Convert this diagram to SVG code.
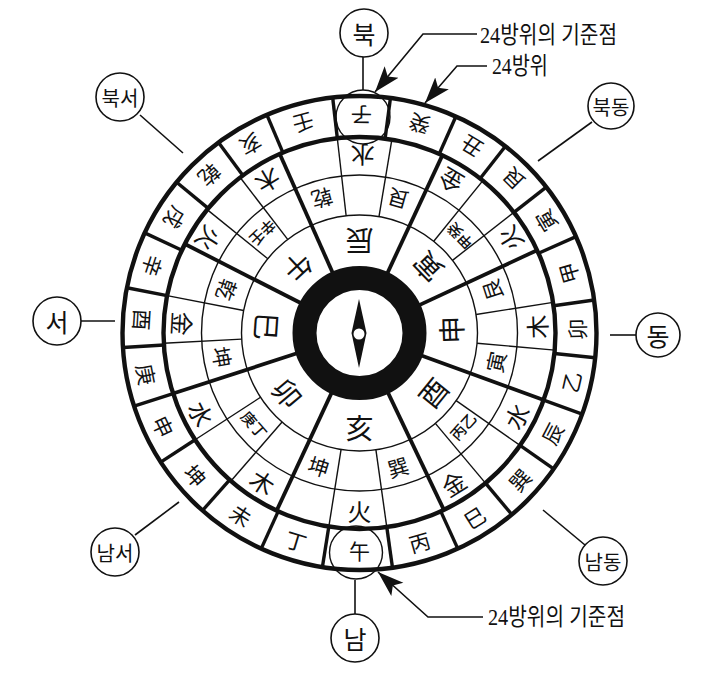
<svg xmlns="http://www.w3.org/2000/svg" width="704" height="681" viewBox="0 0 704 681">
<style>
text{font-family:"Noto Sans CJK KR","Noto Sans CJK TC",sans-serif;fill:#111;text-anchor:middle;dominant-baseline:central}
.r{fill:none;stroke:#111}
.t{stroke-width:4.4}
.n{stroke-width:1.4}
.l{stroke:#111;fill:none}
.m{stroke-width:3.8}
.o{stroke-width:3.4}
.s{stroke-width:1.4}
.a{font-size:21px;font-weight:400}
.b{font-size:24px;font-weight:400}
.c{font-size:28px;font-weight:400}
.d{font-size:15px;font-weight:500}
.node circle{fill:#fff;stroke:#111;stroke-width:1.6}
.lab{font-family:"Liberation Serif","Noto Sans CJK KR",sans-serif;font-size:24px;text-anchor:start;font-weight:400}
.nt{font-size:25px}
.nt2{font-size:20px}
</style>
<defs>
<marker id="ah" markerUnits="userSpaceOnUse" markerWidth="30" markerHeight="22" refX="26" refY="10" orient="auto"><path d="M26 10L0 1L6 10L0 19Z" fill="#111"/></marker>
</defs>
<rect width="704" height="681" fill="#fff"/>
<g id="wheel">
<circle class="r n" cx="359.5" cy="333" r="158"/>
<circle class="r n" cx="359.5" cy="333" r="118"/>
<g class="l o">
<line y1="-196" y2="-237" transform="translate(359.5 333) rotate(7.5)"/>
<line y1="-196" y2="-237" transform="translate(359.5 333) rotate(24)"/>
<line y1="-196" y2="-237" transform="translate(359.5 333) rotate(38)"/>
<line y1="-196" y2="-237" transform="translate(359.5 333) rotate(52)"/>
<line y1="-196" y2="-237" transform="translate(359.5 333) rotate(66)"/>
<line y1="-196" y2="-237" transform="translate(359.5 333) rotate(82)"/>
<line y1="-196" y2="-237" transform="translate(359.5 333) rotate(96)"/>
<line y1="-196" y2="-237" transform="translate(359.5 333) rotate(110)"/>
<line y1="-196" y2="-237" transform="translate(359.5 333) rotate(125)"/>
<line y1="-196" y2="-237" transform="translate(359.5 333) rotate(140)"/>
<line y1="-196" y2="-237" transform="translate(359.5 333) rotate(155.5)"/>
<line y1="-196" y2="-237" transform="translate(359.5 333) rotate(172)"/>
<line y1="-196" y2="-237" transform="translate(359.5 333) rotate(189)"/>
<line y1="-196" y2="-237" transform="translate(359.5 333) rotate(204.5)"/>
<line y1="-196" y2="-237" transform="translate(359.5 333) rotate(221.5)"/>
<line y1="-196" y2="-237" transform="translate(359.5 333) rotate(237)"/>
<line y1="-196" y2="-237" transform="translate(359.5 333) rotate(252)"/>
<line y1="-196" y2="-237" transform="translate(359.5 333) rotate(266.5)"/>
<line y1="-196" y2="-237" transform="translate(359.5 333) rotate(281)"/>
<line y1="-196" y2="-237" transform="translate(359.5 333) rotate(295)"/>
<line y1="-196" y2="-237" transform="translate(359.5 333) rotate(309.5)"/>
<line y1="-196" y2="-237" transform="translate(359.5 333) rotate(323.5)"/>
<line y1="-196" y2="-237" transform="translate(359.5 333) rotate(337)"/>
<line y1="-196" y2="-237" transform="translate(359.5 333) rotate(353.5)"/>
</g>
<g class="l s">
<line y1="-118" y2="-196" transform="translate(359.5 333) rotate(9.5)"/>
<line y1="-118" y2="-196" transform="translate(359.5 333) rotate(353.5)"/>
<line y1="-118" y2="-196" transform="translate(359.5 333) rotate(39)"/>
<line y1="-118" y2="-196" transform="translate(359.5 333) rotate(52)"/>
<line y1="-118" y2="-196" transform="translate(359.5 333) rotate(81)"/>
<line y1="-118" y2="-196" transform="translate(359.5 333) rotate(95)"/>
<line y1="-118" y2="-196" transform="translate(359.5 333) rotate(125)"/>
<line y1="-118" y2="-196" transform="translate(359.5 333) rotate(140)"/>
<line y1="-118" y2="-196" transform="translate(359.5 333) rotate(172)"/>
<line y1="-118" y2="-196" transform="translate(359.5 333) rotate(189)"/>
<line y1="-118" y2="-196" transform="translate(359.5 333) rotate(221)"/>
<line y1="-118" y2="-196" transform="translate(359.5 333) rotate(237)"/>
<line y1="-118" y2="-196" transform="translate(359.5 333) rotate(267)"/>
<line y1="-118" y2="-196" transform="translate(359.5 333) rotate(281)"/>
<line y1="-118" y2="-196" transform="translate(359.5 333) rotate(309)"/>
<line y1="-118" y2="-196" transform="translate(359.5 333) rotate(322.5)"/>
</g>
<g class="l m">
<line y1="-60" y2="-196" transform="translate(359.5 333) rotate(25)"/>
<line y1="-60" y2="-196" transform="translate(359.5 333) rotate(65)"/>
<line y1="-60" y2="-196" transform="translate(359.5 333) rotate(110)"/>
<line y1="-60" y2="-196" transform="translate(359.5 333) rotate(154.5)"/>
<line y1="-60" y2="-196" transform="translate(359.5 333) rotate(205)"/>
<line y1="-60" y2="-196" transform="translate(359.5 333) rotate(252)"/>
<line y1="-60" y2="-196" transform="translate(359.5 333) rotate(297)"/>
<line y1="-60" y2="-196" transform="translate(359.5 333) rotate(336)"/>
</g>
<circle class="r t" cx="359.5" cy="333" r="196"/>
<circle class="r t" cx="359.5" cy="333" r="237"/>
<circle cx="359.5" cy="333" r="55" fill="#fff" stroke="#111" stroke-width="24"/>
<path d="M359 299L366.500 333L359 368L351.500 333Z" fill="#111"/>
<circle cx="359" cy="334" r="5.500" fill="#fff"/>
<circle class="r n" cx="363" cy="117" r="27"/>
<circle class="r n" cx="356" cy="552.500" r="26.500"/>
<g id="outer-24" class="a">
<text transform="translate(359.5 333) rotate(0.5) translate(0 -217) rotate(180)">子</text>
<text transform="translate(359.5 333) rotate(16) translate(0 -217) rotate(180)">癸</text>
<text transform="translate(359.5 333) rotate(31) translate(0 -217) rotate(180)">丑</text>
<text transform="translate(359.5 333) rotate(45) translate(0 -217) rotate(180)">艮</text>
<text transform="translate(359.5 333) rotate(59) translate(0 -217) rotate(180)">寅</text>
<text transform="translate(359.5 333) rotate(74) translate(0 -217) rotate(180)">甲</text>
<text transform="translate(359.5 333) rotate(89) translate(0 -217) rotate(180)">卯</text>
<text transform="translate(359.5 333) rotate(103) translate(0 -217) rotate(180)">乙</text>
<text transform="translate(359.5 333) rotate(117.500) translate(0 -217) rotate(180)">辰</text>
<text transform="translate(359.5 333) rotate(132.500) translate(0 -217) rotate(180)">巽</text>
<text transform="translate(359.5 333) rotate(148) translate(0 -217) rotate(180)">巳</text>
<text transform="translate(359.5 333) rotate(164) translate(0 -217) rotate(180)">丙</text>
<text transform="translate(359.5 333) rotate(180) translate(0 -217) rotate(180)">午</text>
<text transform="translate(359.5 333) rotate(197) translate(0 -217) rotate(180)">丁</text>
<text transform="translate(359.5 333) rotate(213) translate(0 -217) rotate(180)">未</text>
<text transform="translate(359.5 333) rotate(229) translate(0 -217) rotate(180)">坤</text>
<text transform="translate(359.5 333) rotate(244.500) translate(0 -217) rotate(180)">申</text>
<text transform="translate(359.5 333) rotate(259) translate(0 -217) rotate(180)">庚</text>
<text transform="translate(359.5 333) rotate(273.500) translate(0 -217) rotate(180)">酉</text>
<text transform="translate(359.5 333) rotate(288) translate(0 -217) rotate(180)">辛</text>
<text transform="translate(359.5 333) rotate(302) translate(0 -217) rotate(180)">戌</text>
<text transform="translate(359.5 333) rotate(316.500) translate(0 -217) rotate(180)">乾</text>
<text transform="translate(359.5 333) rotate(330) translate(0 -217) rotate(180)">亥</text>
<text transform="translate(359.5 333) rotate(345) translate(0 -217) rotate(180)">壬</text>
</g>
<g id="elements" class="b">
<text transform="translate(359.5 333) rotate(1) translate(0 -177) rotate(180)">水</text>
<text transform="translate(359.5 333) rotate(31) translate(0 -177) rotate(180)">金</text>
<text transform="translate(359.5 333) rotate(58) translate(0 -177) rotate(180)">火</text>
<text transform="translate(359.5 333) rotate(88) translate(0 -177) rotate(180)">木</text>
<text transform="translate(359.5 333) rotate(118) translate(0 -177) rotate(180)">水</text>
<text transform="translate(359.5 333) rotate(148) translate(0 -177) rotate(180)">金</text>
<text transform="translate(359.5 333) rotate(180) translate(0 -177) rotate(180)">火</text>
<text transform="translate(359.5 333) rotate(213) translate(0 -177) rotate(180)">木</text>
<text transform="translate(359.5 333) rotate(243) translate(0 -177) rotate(180)">水</text>
<text transform="translate(359.5 333) rotate(273) translate(0 -177) rotate(180)">金</text>
<text transform="translate(359.5 333) rotate(302) translate(0 -177) rotate(180)">火</text>
<text transform="translate(359.5 333) rotate(329) translate(0 -177) rotate(180)">木</text>
</g>
<g id="middle" class="a">
<text transform="translate(359.5 333) rotate(16) translate(0 -139) rotate(180)">艮</text>
<text class="d" transform="translate(359.5 333) rotate(46) translate(0 -139) rotate(180)">甲癸</text>
<text transform="translate(359.5 333) rotate(72) translate(0 -139) rotate(180)">艮</text>
<text transform="translate(359.5 333) rotate(102) translate(0 -139) rotate(180)">寅</text>
<text class="d" transform="translate(359.5 333) rotate(132) translate(0 -139) rotate(180)">丙乙</text>
<text transform="translate(359.5 333) rotate(164) translate(0 -139) rotate(180)">巽</text>
<text transform="translate(359.5 333) rotate(197) translate(0 -139) rotate(180)">坤</text>
<text class="d" transform="translate(359.5 333) rotate(229) translate(0 -139) rotate(180)">庚丁</text>
<text transform="translate(359.5 333) rotate(260) translate(0 -139) rotate(180)">坤</text>
<text transform="translate(359.5 333) rotate(288) translate(0 -139) rotate(180)">乾</text>
<text class="d" transform="translate(359.5 333) rotate(316) translate(0 -139) rotate(180)">辛壬</text>
<text transform="translate(359.5 333) rotate(344.500) translate(0 -139) rotate(180)">乾</text>
</g>
<g id="inner" class="c">
<text transform="translate(359.5 333) rotate(0) translate(0 -91) rotate(180)">辰</text>
<text transform="translate(359.5 333) rotate(46) translate(0 -94) rotate(180)">寅</text>
<text transform="translate(359.5 333) rotate(88) translate(0 -91) rotate(180)">申</text>
<text transform="translate(359.5 333) rotate(129) translate(0 -94) rotate(180)">酉</text>
<text transform="translate(359.5 333) rotate(180) translate(0 -94) rotate(180)">亥</text>
<text transform="translate(359.5 333) rotate(230) translate(0 -93) rotate(180)">卯</text>
<text transform="translate(359.5 333) rotate(274) translate(0 -92) rotate(180)">巳</text>
<text transform="translate(359.5 333) rotate(317) translate(0 -89) rotate(180)">午</text>
</g>
</g>
<g id="connectors">
<g class="l" stroke-width="1.6">
<line x1="363" y1="57" x2="363" y2="90"/>
<line x1="592" y1="122" x2="538" y2="161"/>
<line x1="636" y1="335" x2="610" y2="335"/>
<line x1="585" y1="545" x2="543" y2="510"/>
<line x1="355" y1="614" x2="355" y2="580"/>
<line x1="135" y1="535" x2="179" y2="502"/>
<line x1="81" y1="321" x2="115" y2="321"/>
<line x1="140" y1="115" x2="183" y2="153"/>
<polyline points="477,34 423,34 375,92" marker-end="url(#ah)"/>
<polyline points="487,66 457,66 425,103" marker-end="url(#ah)"/>
<polyline points="483,617 428,617 378,572" marker-end="url(#ah)"/>
</g>
</g>
<g id="n-north" class="node"><circle cx="364" cy="33" r="24"/><text class="nt" x="364" y="33">북</text></g>
<g id="n-northeast" class="node"><circle cx="611" cy="106" r="23"/><text class="nt2" x="611" y="106">북동</text></g>
<g id="n-east" class="node"><circle cx="658" cy="335" r="22"/><text class="nt" x="658" y="335">동</text></g>
<g id="n-southeast" class="node"><circle cx="603" cy="561" r="24"/><text class="nt2" x="603" y="561">남동</text></g>
<g id="n-south" class="node"><circle cx="355" cy="638" r="24"/><text class="nt" x="355" y="638">남</text></g>
<g id="n-southwest" class="node"><circle cx="115" cy="552" r="24"/><text class="nt2" x="115" y="552">남서</text></g>
<g id="n-west" class="node"><circle cx="57" cy="321" r="24"/><text class="nt" x="57" y="321">서</text></g>
<g id="n-northwest" class="node"><circle cx="120" cy="97" r="24"/><text class="nt2" x="120" y="97">북서</text></g>
<text class="lab" x="480" y="35" textLength="137" lengthAdjust="spacingAndGlyphs">24방위의 기준점</text>
<text class="lab" x="492" y="66" textLength="56" lengthAdjust="spacingAndGlyphs">24방위</text>
<text class="lab" x="488" y="617" textLength="137" lengthAdjust="spacingAndGlyphs">24방위의 기준점</text>
</svg>
